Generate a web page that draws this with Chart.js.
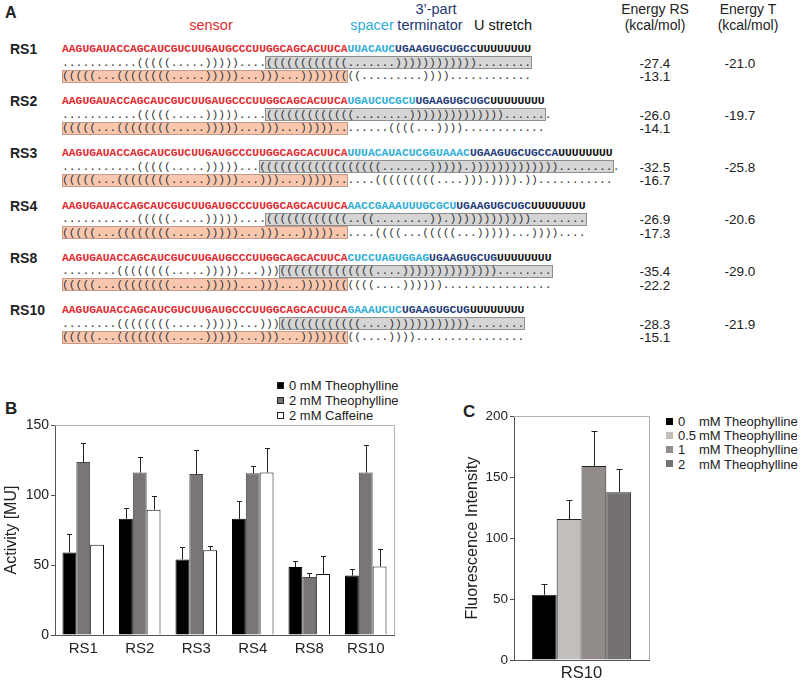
<!DOCTYPE html>
<html>
<head>
<meta charset="utf-8">
<script src="https://cdn.jsdelivr.net/npm/chart.js@4.4.1/dist/chart.umd.min.js"></script>
<style>
  body { margin: 0; background: #fff; width: 800px; height: 681px; position: relative; overflow: hidden;
         font-family: "Liberation Sans", Arial, sans-serif; color: #222; }
  .abs { position: absolute; white-space: pre; }
  .mid { transform: translate(-50%, -50%); }
  .vmid { transform: translateY(-50%); }
  .mono { font-family: "Liberation Mono", "Courier New", monospace; font-size: 11.333px; line-height: 13px; }
  .seq { font-weight: bold; }
  .panel { font-weight: bold; font-size: 17px; }
  .box { position: absolute; box-sizing: border-box; }
  .sw { position: absolute; box-sizing: border-box; }
</style>
</head>
<body>
<div id="panelA"></div>
<div class="abs panel vmid" style="left:5px; top:409px;">B</div>
<div class="abs panel vmid" style="left:463px; top:412px;">C</div>
<div id="legendB"></div>
<div id="legendC"></div>
<canvas id="chartB" width="400" height="310" style="position:absolute; left:0; top:360px;"></canvas>
<canvas id="chartC" width="200" height="320" style="position:absolute; left:460px; top:360px;"></canvas>
<script>
// ---- panel A data ----
const rowNames = ['RS1', 'RS2', 'RS3', 'RS4', 'RS8', 'RS10'];
const sensorSeq = 'AAGUGAUACCAGCAUCGUCUUGAUGCCCUUGGCAGCACUUCA';
const spacerSeq = ['UUACAUC', 'UGAUCUCGCU', 'UUUACAUACUCGGUAAAC', 'AACCGAAAUUUGCGCU', 'CUCCUAGUGGAG', 'GAAAUCUC'];
const terminatorSeq = ['UGAAGUGCUGCC', 'UGAAGUGCUGC', 'UGAAGUGCUGCCA', 'UGAAGUGCUGC', 'UGAAGUGCUG', 'UGAAGUGCUG'];
const uStretch = 'UUUUUUUU';
// structure with terminator formed
const foldRS = [
  '...........(((((.....)))))....((((((((((((.......))))))))))))........',
  '...........(((((.....)))))....(((((((((((((........)))))))))))))).......',
  '...........(((((.....)))))...((((((((((((((((((.......))))).))))))))))))).........',
  '...........(((((.....)))))....((((((((((((..((........)).))))))))))))........',
  '........((((((((.....)))))...)))((((((((((((((....))))))))))))))........',
  '........((((((((.....)))))...)))((((((((((((....))))))))))))........'
];
// structure with aptamer (sensor) formed
const foldSensor = [
  '(((((...((((((((.....)))))...)))...)))))((((.........))))............',
  '(((((...((((((((.....)))))...)))...)))))........((((...))))............',
  '(((((...((((((((.....)))))...)))...)))))......(((((((((....))).)))).))...........',
  '(((((...((((((((.....)))))...)))...)))))......((((...(((((...)))))...))))....',
  '(((((...((((((((.....)))))...)))...)))))((((((....))))))................',
  '(((((...((((((((.....)))))...)))...)))))((((....))))................'
];
const energyRS = [-27.4, -26.0, -32.5, -26.9, -35.4, -28.3];
const energySensor = [-13.1, -14.1, -16.7, -17.3, -22.2, -15.1];
const energyT = [-21.0, -19.7, -25.8, -20.6, -29.0, -21.9];

// ---- panel B data ----
const groupsB = ['RS1', 'RS2', 'RS3', 'RS4', 'RS8', 'RS10'];
const theo0 = [59, 83, 54, 83, 48.5, 42.5];
const theo0Err = [13.5, 8, 9, 13, 4.5, 4.5];
const theo2 = [123.5, 116, 115, 115.5, 41.5, 116];
const theo2Err = [14, 11, 17, 5.5, 3, 20];
const caff2 = [64.5, 89.5, 60.5, 116, 43.5, 49];
const caff2Err = [0, 9.5, 3, 17.5, 13, 12.5];
const seriesB = ['0 mM Theophylline', '2 mM Theophylline', '2 mM Caffeine'];

// ---- panel C data ----
const groupsC = ['RS10'];
const doses = ['0', '0.5', '1', '2'];
const fluor = [53.5, 115.5, 159, 137.5];
const fluorErr = [8.5, 15.5, 29, 19];

// ---------- panel A (text) ----------
const A = document.getElementById('panelA');
const cw = 11.333 * 0.6;
const x0 = 62;
function put(html, cls, style) {
  const d = document.createElement('div');
  d.className = 'abs ' + cls;
  d.setAttribute('style', style);
  d.innerHTML = html;
  A.appendChild(d);
  return d;
}
put('A', 'panel vmid', 'left:5px; top:13px; font-size:16px;');
put('sensor', 'mid', 'left:211px; top:25px; font-size:14.5px; color:#e02a2f;');
put('spacer', 'mid', 'left:372px; top:25px; font-size:14.5px; color:#2eaed6;');
put('3’-part', 'mid', 'left:436px; top:9px; font-size:14.5px; color:#22386f;');
put('terminator', 'mid', 'left:430px; top:25px; font-size:14.5px; color:#22386f;');
put('U stretch', 'mid', 'left:503px; top:25px; font-size:14.5px; color:#111;');
put('Energy RS', 'mid', 'left:655px; top:9px; font-size:14px;');
put('(kcal/mol)', 'mid', 'left:655px; top:25px; font-size:14px;');
put('Energy T', 'mid', 'left:748px; top:9px; font-size:14px;');
put('(kcal/mol)', 'mid', 'left:748px; top:25px; font-size:14px;');

// start of the terminator hairpin = second top-level helix in foldRS
function hairpinStart(s) {
  let depth = 0, seen = false;
  for (let i = 0; i < s.length; i++) {
    if (s[i] === '(') {
      if (seen && depth === 0) return i;
      depth++; seen = true;
    } else if (s[i] === ')') depth--;
  }
  return 0;
}

rowNames.forEach((name, i) => {
  const y = 49 + i * 52.2;
  const full = sensorSeq + spacerSeq[i] + terminatorSeq[i] + uStretch;
  const gs = hairpinStart(foldRS[i]);
  const gb = document.createElement('div');
  gb.className = 'box';
  gb.setAttribute('style', `left:${x0 + gs * cw - 0.5}px; top:${y + 7}px; width:${(full.length - gs) * cw + 1.5}px; height:13px; background:#d5d5d5; border:1px solid #8e8e8e;`);
  A.appendChild(gb);
  const sb = document.createElement('div');
  sb.className = 'box';
  sb.setAttribute('style', `left:${x0 - 0.5}px; top:${y + 20.5}px; width:${sensorSeq.length * cw + 1}px; height:13px; background:#f8c7ae; border:1px solid #c39a8a;`);
  A.appendChild(sb);

  put(name, 'vmid', `left:10px; top:${y}px; font-size:14px; font-weight:bold;`);
  put(`<span style="color:#e02a2f">${sensorSeq}</span><span style="color:#2eaed6">${spacerSeq[i]}</span><span style="color:#1e3a78">${terminatorSeq[i]}</span><span style="color:#111">${uStretch}</span>`,
      'mono seq vmid', `left:${x0}px; top:${y}px;`);
  put(foldRS[i], 'mono vmid', `left:${x0}px; top:${y + 13.5}px; color:#333;`);
  put(foldSensor[i], 'mono vmid', `left:${x0}px; top:${y + 27}px; color:#333;`);
  put(energyRS[i].toFixed(1), 'mid', `left:655px; top:${y + 13.5}px; font-size:13.5px;`);
  put(energySensor[i].toFixed(1), 'mid', `left:655px; top:${y + 27}px; font-size:13.5px;`);
  put(energyT[i].toFixed(1), 'mid', `left:740px; top:${y + 13.5}px; font-size:13.5px;`);
});

// ---------- legends ----------
const colorsB = ['#000000', '#7a7677', '#ffffff'];
const colorsC = ['#000000', '#c2bebc', '#918b8a', '#757071'];
const LB = document.getElementById('legendB');
seriesB.forEach((s, i) => {
  const y = 385 + i * 15;
  LB.insertAdjacentHTML('beforeend',
    `<div class="sw" style="left:277px; top:${y - 3}px; width:7px; height:7px; background:${colorsB[i]}; border:1px solid #222;"></div>` +
    `<div class="abs vmid" style="left:289px; top:${y}px; font-size:13px;">${s}</div>`);
});
const LC = document.getElementById('legendC');
doses.forEach((d, i) => {
  const y = 421 + i * 14.2;
  LC.insertAdjacentHTML('beforeend',
    `<div class="sw" style="left:666px; top:${y - 3.5}px; width:7px; height:7px; background:${colorsC[i]}; border:1px solid ${i ? colorsC[i] : '#000'};"></div>` +
    `<div class="abs vmid" style="left:678px; top:${y}px; font-size:13px;">${d}</div>` +
    `<div class="abs vmid" style="left:699px; top:${y}px; font-size:13px;">mM Theophylline</div>`);
});

// ---------- charts ----------
Chart.defaults.font.family = '"Liberation Sans", Arial, sans-serif';
Chart.defaults.color = '#222';

const errorBars = {
  id: 'errorBars',
  afterDatasetsDraw(chart, args, opts) {
    const ctx = chart.ctx;
    const ys = chart.scales.y;
    chart.data.datasets.forEach((ds, di) => {
      if (!ds.errorUp) return;
      chart.getDatasetMeta(di).data.forEach((bar, i) => {
        const e = ds.errorUp[i];
        if (!e) return;
        const yTop = Math.round(ys.getPixelForValue(ds.data[i] + e)) + 0.5;
        const x = Math.round(bar.x) + 0.5;
        ctx.save();
        ctx.strokeStyle = '#222';
        ctx.lineWidth = 1;
        ctx.beginPath();
        ctx.moveTo(x, bar.y);
        ctx.lineTo(x, yTop);
        ctx.moveTo(x - opts.cap, yTop);
        ctx.lineTo(x + opts.cap, yTop);
        ctx.stroke();
        ctx.restore();
      });
    });
  }
};

// light top/right frame lines of the plot box
const frame = {
  id: 'frame',
  beforeDatasetsDraw(chart) {
    const {ctx, chartArea: a} = chart;
    ctx.save();
    ctx.strokeStyle = '#b0b0b0';
    ctx.lineWidth = 1;
    ctx.beginPath();
    ctx.moveTo(Math.round(a.left), Math.round(a.top) + 0.5);
    ctx.lineTo(Math.round(a.right) + 0.5, Math.round(a.top) + 0.5);
    ctx.lineTo(Math.round(a.right) + 0.5, Math.round(a.bottom));
    ctx.stroke();
    ctx.restore();
  }
};

function barDataset(label, data, err, fill, border) {
  return {
    label: label,
    data: data,
    errorUp: err,
    backgroundColor: fill,
    borderColor: border,
    borderWidth: 1,
    barPercentage: 1.0,
    categoryPercentage: 0.735
  };
}

new Chart(document.getElementById('chartB'), {
  type: 'bar',
  data: {
    labels: groupsB,
    datasets: [
      barDataset(seriesB[0], theo0, theo0Err, colorsB[0], '#000'),
      barDataset(seriesB[1], theo2, theo2Err, colorsB[1], '#4a4647'),
      barDataset(seriesB[2], caff2, caff2Err, colorsB[2], '#111')
    ]
  },
  options: {
    responsive: false,
    animation: false,
    devicePixelRatio: 1,
    layout: { padding: { top: 65, right: 6, left: 0, bottom: 0 } },
    plugins: { legend: { display: false }, tooltip: { enabled: false }, errorBars: { cap: 2.5 } },
    scales: {
      x: {
        afterFit: s => { s.height = 35; },
        grid: { display: false, drawTicks: false },
        border: { color: '#555' },
        ticks: { font: { size: 15 }, padding: 5, color: '#222' }
      },
      y: {
        min: 0, max: 150,
        afterFit: s => { s.width = 55; },
        grid: { drawOnChartArea: false, tickLength: 4, color: '#555' },
        border: { color: '#555' },
        ticks: { stepSize: 50, font: { size: 14 }, padding: 2, color: '#222' },
        title: { display: true, text: 'Activity [MU]', font: { size: 16 }, padding: { top: 2, bottom: 0 }, color: '#222' }
      }
    }
  },
  plugins: [frame, errorBars]
});

new Chart(document.getElementById('chartC'), {
  type: 'bar',
  data: {
    labels: groupsC,
    datasets: doses.map((d, i) =>
      barDataset(d + ' mM Theophylline', [fluor[i]], [fluorErr[i]], colorsC[i], '#222'))
  },
  options: {
    responsive: false,
    animation: false,
    devicePixelRatio: 1,
    layout: { padding: { top: 56, right: 11, left: 0, bottom: 0 } },
    plugins: { legend: { display: false }, tooltip: { enabled: false }, errorBars: { cap: 3 } },
    scales: {
      x: {
        afterFit: s => { s.height = 20; },
        grid: { display: false, drawTicks: false },
        border: { color: '#555' },
        ticks: { font: { size: 16.5 }, padding: 4, color: '#222' }
      },
      y: {
        min: 0, max: 200,
        afterFit: s => { s.width = 54; },
        grid: { drawOnChartArea: false, tickLength: 4, color: '#555' },
        border: { color: '#555' },
        ticks: { stepSize: 50, font: { size: 13.5 }, padding: 2, color: '#222' },
        title: { display: true, text: 'Fluorescence Intensity', font: { size: 16.3 }, padding: { top: 3, bottom: 0 }, color: '#222' }
      }
    }
  },
  plugins: [frame, errorBars]
});
</script>
</body>
</html>
